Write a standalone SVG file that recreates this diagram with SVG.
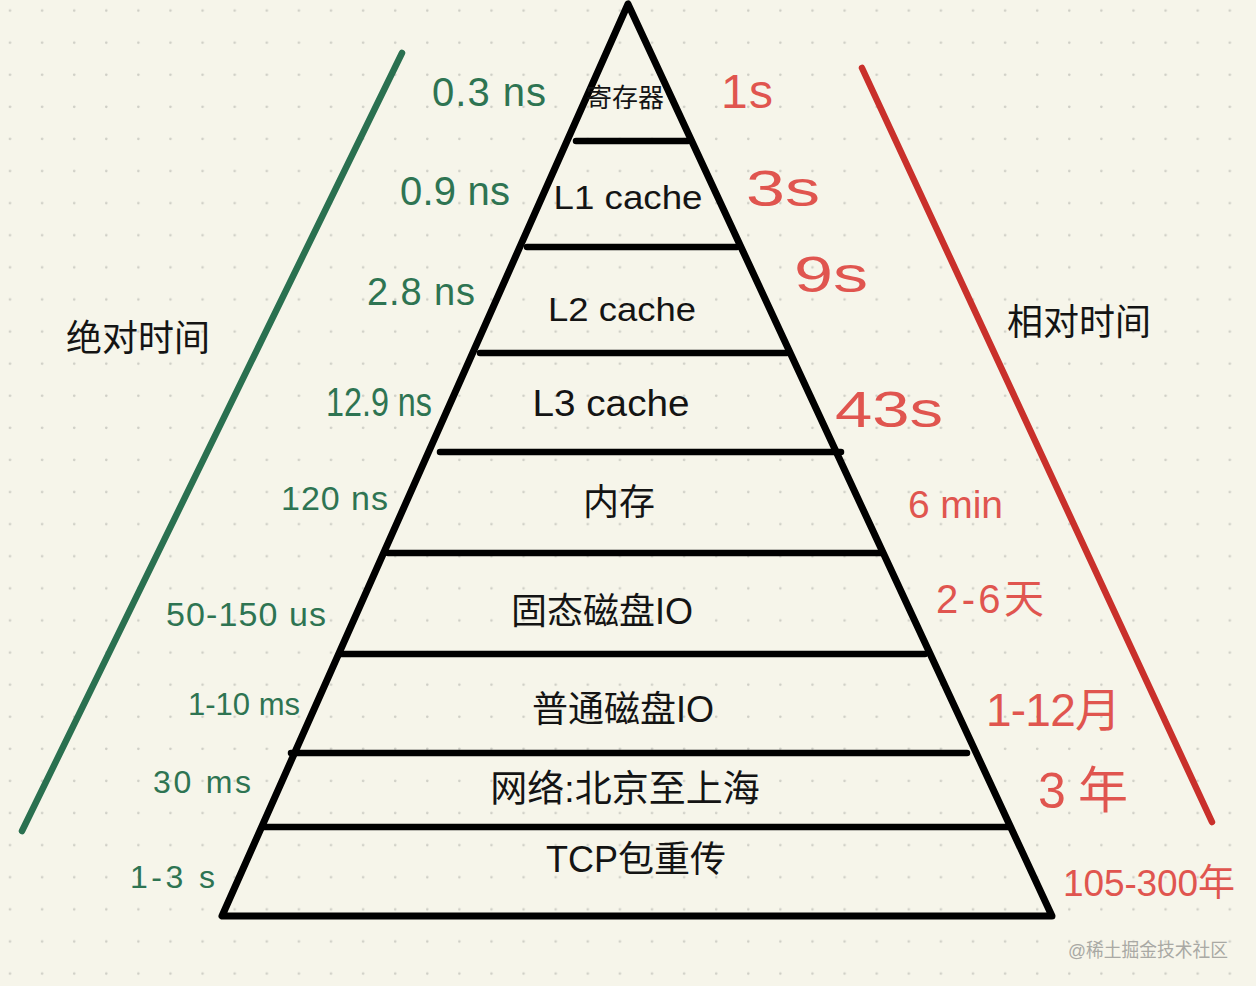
<svg xmlns="http://www.w3.org/2000/svg" width="1256" height="986" viewBox="0 0 1256 986">
<defs>
<pattern id="dots" x="0" y="0" width="32.1" height="32.1" patternUnits="userSpaceOnUse">
<circle cx="10" cy="10.5" r="1.3" fill="#cfcfc6"/>
</pattern>
<style>
.lbl{font-family:"Liberation Sans","Noto Sans CJK SC",sans-serif;fill:#141414;text-anchor:middle}
.side{font-family:"Liberation Sans","Noto Sans CJK SC",sans-serif;fill:#141414;font-size:36px}
.g{font-family:"Liberation Sans","Noto Sans CJK SC",sans-serif;fill:#2e7452}
.r{font-family:"Liberation Sans","Noto Sans CJK SC",sans-serif;fill:#e0554f}
.edge{fill:none;stroke:#000;stroke-width:7;stroke-linejoin:round;stroke-linecap:round}
.bar{stroke:#000;stroke-width:6.5;stroke-linecap:round}
</style>
</defs>
<rect width="1256" height="986" fill="#f6f5ea"/>
<rect width="1256" height="986" fill="url(#dots)"/>

<g id="connectors">
<line x1="402" y1="53" x2="22" y2="831" stroke="#2a7050" stroke-width="6.5" stroke-linecap="round"/>
<line x1="862" y1="68" x2="1212" y2="822" stroke="#c9302b" stroke-width="6.5" stroke-linecap="round"/>
<path class="edge" d="M628 4 L222 916 L1052 916 Z"/>
<line class="bar" x1="576" y1="141" x2="688" y2="141"/>
<line class="bar" x1="527" y1="247" x2="737" y2="247"/>
<line class="bar" x1="480" y1="353" x2="787" y2="353"/>
<line class="bar" x1="440" y1="452" x2="841" y2="452"/>
<line class="bar" x1="388" y1="553" x2="881" y2="553"/>
<line class="bar" x1="341" y1="654" x2="925" y2="654"/>
<line class="bar" x1="291" y1="753" x2="967" y2="753"/>
<line class="bar" x1="264" y1="827" x2="1009" y2="827"/>
</g>

<g id="layer-register"><text class="lbl" x="625" y="107" font-size="26">寄存器</text></g>
<g id="layer-l1"><text class="lbl" x="628" y="209" font-size="33" textLength="149" lengthAdjust="spacingAndGlyphs">L1 cache</text></g>
<g id="layer-l2"><text class="lbl" x="622" y="321" font-size="34" textLength="148" lengthAdjust="spacingAndGlyphs">L2 cache</text></g>
<g id="layer-l3"><text class="lbl" x="611" y="416" font-size="36" textLength="157" lengthAdjust="spacingAndGlyphs">L3 cache</text></g>
<g id="layer-memory"><text class="lbl" x="619" y="515" font-size="36">内存</text></g>
<g id="layer-ssd"><text class="lbl" x="602" y="624" font-size="36">固态磁盘IO</text></g>
<g id="layer-hdd"><text class="lbl" x="623" y="722" font-size="36">普通磁盘IO</text></g>
<g id="layer-network"><text class="lbl" x="625" y="802" font-size="37">网络:北京至上海</text></g>
<g id="layer-tcp"><text class="lbl" x="636" y="872" font-size="36">TCP包重传</text></g>

<g id="absolute-title"><text class="side" x="66" y="351">绝对时间</text></g>
<g id="relative-title"><text class="side" x="1007" y="335">相对时间</text></g>

<g id="absolute-times">
<text class="g" x="432" y="106" font-size="40" textLength="114" lengthAdjust="spacing">0.3 ns</text>
<text class="g" x="400" y="205" font-size="40" textLength="110" lengthAdjust="spacing">0.9 ns</text>
<text class="g" x="367" y="305" font-size="38" textLength="108" lengthAdjust="spacing">2.8 ns</text>
<text class="g" x="326" y="416" font-size="40" textLength="106" lengthAdjust="spacingAndGlyphs">12.9 ns</text>
<text class="g" x="281" y="510" font-size="34" textLength="107" lengthAdjust="spacing">120 ns</text>
<text class="g" x="166" y="626" font-size="34" textLength="160" lengthAdjust="spacing">50-150 us</text>
<text class="g" x="188" y="715" font-size="31" textLength="112" lengthAdjust="spacing">1-10 ms</text>
<text class="g" x="153" y="793" font-size="32" textLength="98" lengthAdjust="spacing">30 ms</text>
<text class="g" x="130" y="888" font-size="32" textLength="85" lengthAdjust="spacing">1-3 s</text>
</g>

<g id="relative-times">
<text class="r" x="721" y="108" font-size="48" textLength="52" lengthAdjust="spacing">1s</text>
<text class="r" x="746" y="206" font-size="50" textLength="74" lengthAdjust="spacingAndGlyphs">3s</text>
<text class="r" x="794" y="292" font-size="50" textLength="74" lengthAdjust="spacingAndGlyphs">9s</text>
<text class="r" x="835" y="427" font-size="50" textLength="108" lengthAdjust="spacingAndGlyphs">43s</text>
<text class="r" x="908" y="518" font-size="39" textLength="95" lengthAdjust="spacing">6 min</text>
<text class="r" x="936" y="613" font-size="40" textLength="108" lengthAdjust="spacing">2-6天</text>
<text class="r" x="986" y="726" font-size="46" textLength="135" lengthAdjust="spacing">1-12月</text>
<text class="r" x="1038" y="808" font-size="50" textLength="90" lengthAdjust="spacing">3年</text>
<text class="r" x="1063" y="896" font-size="37" textLength="172" lengthAdjust="spacing">105-300年</text>
</g>

<g id="watermark"><text x="1068" y="957" font-family="Liberation Sans, Noto Sans CJK SC, sans-serif" font-size="19" fill="#a9a9a4" textLength="160" lengthAdjust="spacingAndGlyphs">@稀土掘金技术社区</text></g>
</svg>
